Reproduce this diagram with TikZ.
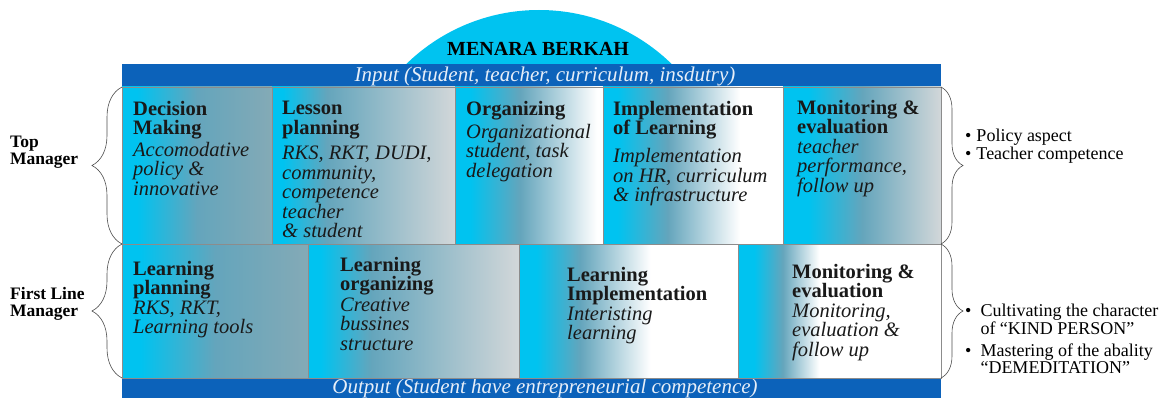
\documentclass[tikz,border=0pt]{standalone}
\usepackage{fontspec}
\setmainfont{Liberation Serif}
\usepackage{xcolor}
\usepackage{tikz}
\usetikzlibrary{decorations.pathreplacing}

\definecolor{mcyan}{RGB}{0,195,240}
\definecolor{msteel}{RGB}{100,165,188}
\definecolor{mslate}{RGB}{132,170,182}
\definecolor{mgray}{RGB}{210,215,217}
\definecolor{mbar}{RGB}{12,98,186}
\definecolor{mbartext}{RGB}{230,238,248}

\pgfdeclarehorizontalshading{cellA}{100bp}{color(0bp)=(mcyan); color(25bp)=(mcyan); color(30bp)=(mcyan); color(50bp)=(msteel); color(75bp)=(mslate); color(100bp)=(mslate)}
\pgfdeclarehorizontalshading{cellB}{100bp}{color(0bp)=(mcyan); color(25bp)=(mcyan); color(28bp)=(mcyan); color(40bp)=(msteel); color(75bp)=(mgray); color(100bp)=(mgray)}
\pgfdeclarehorizontalshading{cellC}{100bp}{color(0bp)=(mcyan); color(25bp)=(mcyan); color(30bp)=(mcyan); color(47bp)=(msteel); color(73bp)=(white); color(100bp)=(white)}
\pgfdeclarehorizontalshading{cellD}{100bp}{color(0bp)=(mcyan); color(25bp)=(mcyan); color(29bp)=(mcyan); color(39bp)=(msteel); color(55bp)=(white); color(100bp)=(white)}
\pgfdeclarehorizontalshading{cellE}{100bp}{color(0bp)=(mcyan); color(25bp)=(mcyan); color(29bp)=(mcyan); color(36bp)=(msteel); color(45bp)=(white); color(100bp)=(white)}
\pgfdeclarehorizontalshading{cellF}{100bp}{color(0bp)=(mcyan); color(25bp)=(mcyan); color(33bp)=(mcyan); color(50bp)=(msteel); color(75bp)=(mgray); color(100bp)=(mgray)}
\pgfdeclarehorizontalshading{cellG}{100bp}{color(0bp)=(mcyan); color(25bp)=(mcyan); color(29bp)=(mcyan); color(43bp)=(msteel); color(63bp)=(white); color(100bp)=(white)}

\begin{document}
\begin{tikzpicture}[x=1pt,y=-1pt,
    cellbox/.style={draw=black!45, line width=0.6pt},
    cell/.style={anchor=north west, inner sep=0pt, align=left, text=black!90, font=\fontsize{20.5}{19.5}\selectfont},
    bartxt/.style={inner sep=0pt, text=mbartext, font=\fontsize{21}{21}\selectfont\itshape},
    level/.style={anchor=west, inner sep=0pt, align=left, font=\fontsize{17.5}{16.5}\selectfont\bfseries},
    note/.style={anchor=north west, inner sep=0pt, font=\fontsize{18}{17}\selectfont},
    brc/.style={decorate, decoration={brace, amplitude=#1}, draw=black!70, line width=0.6pt}]

\useasboundingbox (0,0) rectangle (1173,401);

% dome
\begin{scope}
  \clip (0,0) rectangle (1173,64);
  \fill[mcyan] (539,200) circle[radius=190pt];
\end{scope}
\node[inner sep=0pt, font=\fontsize{20}{20}\selectfont\bfseries] (menara) at (538,49) {MENARA BERKAH};

% input / output bars
\fill[mbar] (122,64) rectangle (941,87);
\fill[mbar] (122,378) rectangle (941,398);
\node[bartxt] (input) at (545,76) {Input (Student, teacher, curriculum, insdutry)};
\node[bartxt] (output) at (545,388) {Output (Student have entrepreneurial competence)};

% top manager row
\shade[shading=cellA, cellbox] (122,87) rectangle (272,244);
\shade[shading=cellB, cellbox] (272,87) rectangle (455,244);
\shade[shading=cellC, cellbox] (455,87) rectangle (603,244);
\shade[shading=cellG, cellbox] (603,87) rectangle (783,244);
\shade[shading=cellF, cellbox] (783,87) rectangle (941,244);

\node[cell] (dm) at (133,101) {\textbf{Decision}\\\textbf{Making}\\[2pt]\textit{Accomodative}\\\textit{policy \&}\\\textit{innovative}};
\node[cell] (lp) at (282,101) {\textbf{Lesson}\\\textbf{planning}\\[6pt]\textit{RKS, RKT, DUDI,}\\\textit{community,}\\\textit{competence}\\\textit{teacher}\\\textit{\& student}};
\node[cell] (org) at (466,101) {\textbf{Organizing}\\[3.5pt]\textit{Organizational}\\\textit{student, task}\\\textit{delegation}};
\node[cell] (impl) at (613,101) {\textbf{Implementation}\\\textbf{of Learning}\\[8.5pt]\textit{Implementation}\\\textit{on HR, curriculum}\\\textit{\& infrastructure}};
\node[cell] (mon) at (797,100) {\textbf{Monitoring \&}\\\textbf{evaluation}\\\textit{teacher}\\\textit{performance,}\\\textit{follow up}};

% first line manager row
\shade[shading=cellA, cellbox] (122,244) rectangle (308,378);
\shade[shading=cellB, cellbox] (308,244) rectangle (519,378);
\shade[shading=cellD, cellbox] (519,244) rectangle (738,378);
\shade[shading=cellE, cellbox] (738,244) rectangle (941,378);

\node[cell] (lpl) at (133,261) {\textbf{Learning}\\\textbf{planning}\\\textit{RKS, RKT,}\\\textit{Learning tools}};
\node[cell] (lorg) at (340,257) {\textbf{Learning}\\\textbf{organizing}\\[1pt]\textit{Creative}\\\textit{bussines}\\\textit{structure}};
\node[cell] (limp) at (567,267) {\textbf{Learning}\\\textbf{Implementation}\\\textit{Interisting}\\\textit{learning}};
\node[cell] (mon2) at (792,264) {\textbf{Monitoring \&}\\\textbf{evaluation}\\\textit{Monitoring,}\\\textit{evaluation \&}\\\textit{follow up}};

% levels and braces
\coordinate (tl1) at (122,87);
\coordinate (tl2) at (122,244);
\coordinate (bl2) at (122,378);
\coordinate (tr1) at (941,87);
\coordinate (tr2) at (941,244);
\coordinate (br2) at (941,378);
\draw[brc=30pt] (tl2) -- (tl1);
\draw[brc=30pt] (bl2) -- (tl2);
\draw[brc=22pt] (tr1) -- (tr2);
\draw[brc=22pt] (tr2) -- (br2);
\node[level] (top) at (10,152) {Top\\Manager};
\node[level] (first) at (10,304) {First Line\\Manager};

\node[note] (aspects) at (965,129) {\begin{tabular}{@{}l@{\hspace{5pt}}l@{}}\textbullet & Policy aspect\\ \textbullet & Teacher competence\end{tabular}};
\node[note] (values) at (965,304) {\begin{tabular}{@{}l@{\hspace{9pt}}l@{}}\textbullet & Cultivating the character\\ & of “KIND PERSON”\\[4pt] \textbullet & Mastering of the abality\\ & “DEMEDITATION”\end{tabular}};
\end{tikzpicture}
\end{document}
